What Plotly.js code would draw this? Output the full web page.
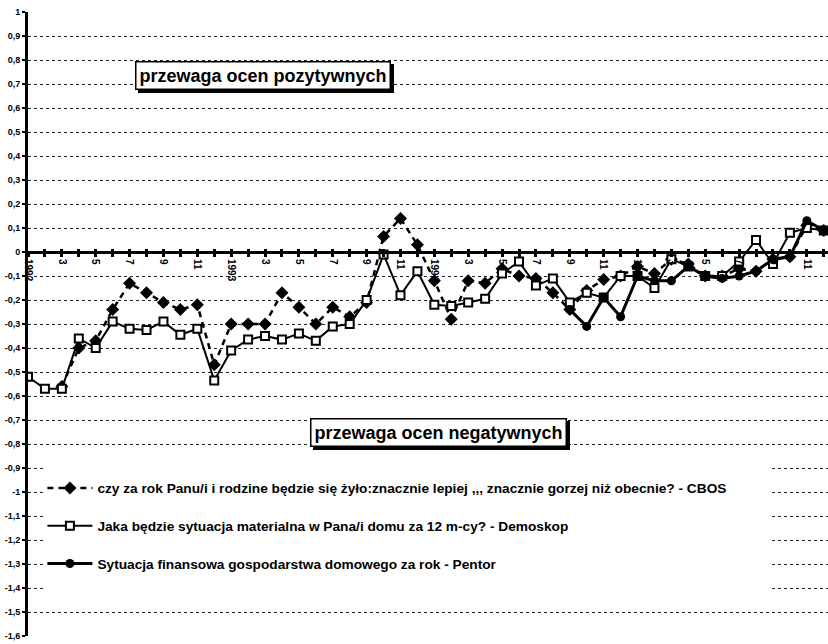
<!DOCTYPE html>
<html><head><meta charset="utf-8">
<script src="https://cdn.plot.ly/plotly-3.0.1.min.js"></script>
<style>
html,body{margin:0;padding:0;background:#fff}
#chart{width:828px;height:644px}
#chart .annotation rect.bg{filter:drop-shadow(3px 3px 0 #000)}
</style>
</head><body><div id="chart"></div>
<script>
const tickLabels = ['1992','','3','','5','','7','','9','','11','',
  '1993','','3','','5','','7','','9','','11','',
  '1994','','3','','5','','7','','9','','11','',
  '1995','','3','','5','','7','','9','','11',''];
const yTickVals = [1,0.9,0.8,0.7,0.6,0.5,0.4,0.3,0.2,0.1,0,-0.1,-0.2,-0.3,-0.4,-0.5,-0.6,-0.7,-0.8,-0.9,-1,-1.1,-1.2,-1.3,-1.4,-1.5,-1.6];
const yTickLabels = ['1','0,9','0,8','0,7','0,6','0,5','0,4','0,3','0,2','0,1','0','-0,1','-0,2','-0,3','-0,4','-0,5','-0,6','-0,7','-0,8','-0,9','-1','-1,1','-1,2','-1,3','-1,4','-1,5','-1,6'];

const cbos = [null,null,-0.56,-0.40,-0.37,-0.24,-0.13,-0.17,-0.21,-0.24,-0.22,-0.47,
  -0.30,-0.30,-0.30,-0.17,-0.23,-0.30,-0.23,-0.27,-0.21,0.065,0.14,0.03,
  -0.12,-0.28,-0.12,-0.13,-0.07,-0.10,-0.11,-0.17,-0.24,-0.16,-0.115,-0.10,
  -0.06,-0.09,-0.03,-0.05,-0.10,-0.10,-0.07,-0.08,-0.03,-0.02,0.11,0.09];
const demoskop = [-0.52,-0.57,-0.57,-0.36,-0.40,-0.29,-0.32,-0.325,-0.29,-0.345,-0.32,-0.535,
  -0.41,-0.365,-0.35,-0.365,-0.34,-0.37,-0.31,-0.30,-0.20,-0.01,-0.18,-0.08,
  -0.22,-0.225,-0.21,-0.195,-0.09,-0.04,-0.14,-0.11,-0.21,-0.17,-0.19,-0.10,
  -0.10,-0.15,-0.03,-0.06,-0.10,-0.10,-0.04,0.05,-0.05,0.08,0.10,0.09];
const pentor = [null,null,null,null,null,null,null,null,null,null,null,null,
  null,null,null,null,null,null,null,null,null,null,null,null,
  null,null,null,null,null,null,null,null,-0.24,-0.31,-0.19,-0.27,
  -0.10,-0.12,-0.12,-0.06,-0.10,-0.11,-0.10,-0.08,-0.03,-0.02,0.13,0.09];

const seriesNames = [
  'czy za rok Panu/i i rodzine będzie się żyło:znacznie lepiej ,,, znacznie gorzej niż obecnie? - CBOS',
  'Jaka będzie sytuacja materialna w Pana/i domu za 12 m-cy? - Demoskop',
  'Sytuacja finansowa gospodarstwa domowego za rok - Pentor'
];
const annTexts = ['przewaga ocen pozytywnych','przewaga ocen negatywnych'];

const months = tickLabels.map((_, i) => i);
const FONT = 'Liberation Sans, Arial, sans-serif';

const traces = [
  {x: months, y: cbos, name: '<b>'+seriesNames[0]+'</b>', mode: 'lines+markers', legendgroup: 'a',
   line: {color: '#000', width: 2.5, dash: '6px,5px'},
   marker: {symbol: 'diamond', size: 10, color: '#000'}},
  {x: months, y: demoskop, name: '<b>'+seriesNames[1]+'</b>', mode: 'lines+markers', legendgroup: 'b',
   line: {color: '#000', width: 2},
   marker: {symbol: 'square', size: 8, color: '#fff', line: {color: '#000', width: 2}}},
  {x: months, y: pentor, name: '<b>'+seriesNames[2]+'</b>', mode: 'lines+markers', legendgroup: 'c',
   line: {color: '#000', width: 3},
   marker: {symbol: 'circle', size: 9, color: '#000'}},
  {x: [], y: [], xaxis: 'x2', showlegend: false, hoverinfo: 'skip'}
];

const annotations = [[annTexts[0], 13.9, 0.735], [annTexts[1], 24.25, -0.75]].map(([t, x, y]) => ({
  text: '<b>'+t+'</b>', x: x, y: y, xref: 'x', yref: 'y', showarrow: false,
  font: {family: FONT, size: 18, color: '#000'}, borderpad: 3,
  bgcolor: '#fff', bordercolor: '#000', borderwidth: 1.5
}));

const zeroPos = 1.6 / 2.6;
const layout = {
  width: 828, height: 644,
  margin: {l: 28, r: 0, t: 12, b: 8},
  paper_bgcolor: '#fff', plot_bgcolor: '#fff',
  showlegend: true,
  font: {family: FONT, color: '#000'},
  xaxis: {
    range: [0, 47.25], anchor: 'free', position: zeroPos,
    showline: true, linecolor: '#000', linewidth: 3,
    showgrid: false, zeroline: false,
    tickmode: 'array', tickvals: months, ticktext: tickLabels,
    ticks: 'outside', ticklen: 3, tickwidth: 3, tickcolor: '#000',
    tickangle: 90, tickfont: {size: 10, family: FONT, weight: 'bold'}
  },
  xaxis2: {
    range: [0, 47.25], overlaying: 'x', anchor: 'free', position: zeroPos,
    showline: false, showgrid: false, zeroline: false,
    tickmode: 'array', tickvals: months, showticklabels: false,
    ticks: 'inside', ticklen: 3, tickwidth: 3, tickcolor: '#000'
  },
  yaxis: {
    range: [-1.6, 1], domain: [0, 1],
    showline: true, linecolor: '#000', linewidth: 3,
    showgrid: true, gridcolor: '#222', gridwidth: 1, griddash: 'dot',
    zeroline: false,
    tickmode: 'array', tickvals: yTickVals, ticktext: yTickLabels,
    ticks: 'outside', ticklen: 3, tickwidth: 2, tickcolor: '#000',
    tickfont: {size: 9, family: FONT, weight: 'bold'}
  },
  shapes: [{
    type: 'rect', xref: 'paper', yref: 'paper', layer: 'above',
    x0: 0.02, x1: 0.93, y0: 0.058, y1: 0.283,
    fillcolor: '#fff', line: {width: 0}
  }],
  legend: {
    x: 0.018, y: 0.262, xanchor: 'left', yanchor: 'top',
    bgcolor: 'rgba(255,255,255,0)', borderwidth: 0,
    traceorder: 'grouped', tracegroupgap: 17,
    itemwidth: 45,
    font: {family: FONT, size: 13.7, color: '#000'}
  },
  annotations: annotations
};

Plotly.newPlot('chart', traces, layout, {displayModeBar: false, staticPlot: true});
</script>
</body></html>
